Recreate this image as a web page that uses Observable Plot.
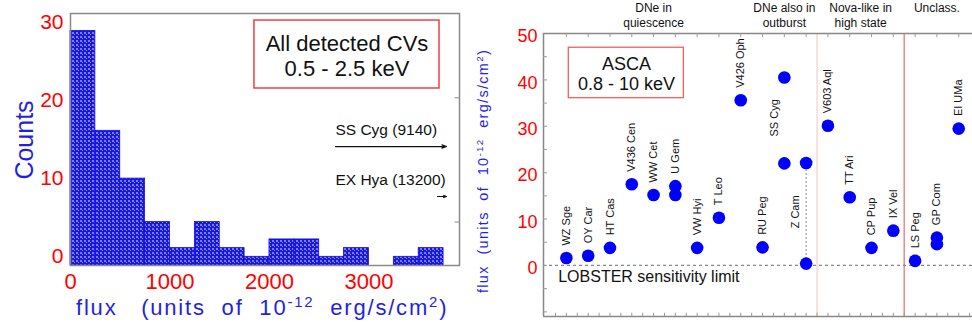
<!DOCTYPE html>
<html><head><meta charset="utf-8">
<script src="https://cdn.jsdelivr.net/npm/d3@7"></script>
<script src="https://cdn.jsdelivr.net/npm/@observablehq/plot@0.6"></script>
<style>
body{margin:0;background:#fff;}
#wrap{position:relative;width:972px;height:325px;overflow:hidden;background:#fff;}
#wrap svg{position:absolute;top:0;overflow:visible;}
</style></head><body>
<svg width="0" height="0" style="position:absolute">
<defs><pattern id="cvfill" width="4" height="4" patternUnits="userSpaceOnUse">
<rect width="4" height="4" fill="#1616e6"/><rect x="0" y="0" width="2" height="2" fill="#7c7cff"/><rect x="2" y="2" width="1" height="1" fill="#9a9aff"/></pattern></defs></svg>
<div id="wrap"></div>
<script>
const FONT = '"Liberation Sans", Arial, Helvetica, sans-serif';

// ---------- Left panel data ----------
const binLower = [0,250,500,750,1000,1250,1500,1750,2000,2250,2500,2750,3000,3250,3500];
const binCounts = [27,15.5,10,5,2,5,2,1,3,3,1,2,0,1,2];
const binWidth = 250;
const countTicks = [0,10,20,30];
const fluxTicks = [0,1000,2000,3000];
const offscaleLabels = ["SS Cyg (9140)","EX Hya (13200)"];

// ---------- Right panel data ----------
const stars = ["WZ Sge","OY Car","HT Cas","V436 Cen","WW Cet","U Gem","VW Hyi","T Leo","V426 Oph",
  "RU Peg","SS Cyg","Z Cam","V603 Aql","TT Ari","CP Pup","IX Vel","LS Peg","GP Com","EI UMa"];
const starGroup = [0,0,0,0,0,0,0,0,0,1,1,1,2,2,2,2,3,3,3];
const groupNames = ["DNe in\nquiescence","DNe also in\noutburst","Nova-like in\nhigh state","Unclass."];
const pointStar = ["WZ Sge","OY Car","HT Cas","V436 Cen","WW Cet","U Gem","U Gem","VW Hyi","T Leo","V426 Oph",
  "RU Peg","SS Cyg","SS Cyg","Z Cam","Z Cam","V603 Aql","TT Ari","CP Pup","IX Vel","LS Peg","GP Com","GP Com","EI UMa"];
const pointFlux = [1.6,2.1,3.8,17.5,15.2,17.1,15.2,3.8,10.3,35.6,
  3.9,40.5,22.0,22.1,0.4,30.1,14.7,3.8,7.5,1.0,6.0,4.6,29.5];
const fluxTicksR = [0,10,20,30,40,50];

const wrap = document.getElementById("wrap");

function richText(svg, {x, y, rotate = 0, size, color, ls = 0, anchor = "start", parts}) {
  const t = d3.select(svg).append("text")
    .attr("transform", `translate(${x},${y}) rotate(${rotate})`)
    .attr("font-size", size).attr("fill", color).attr("letter-spacing", ls)
    .attr("text-anchor", anchor).attr("font-family", FONT).style("white-space", "pre");
  let shifted = false;
  for (const [s, sup] of parts) {
    const ts = t.append("tspan").text(s);
    if (sup && !shifted) { ts.attr("dy", -size * 0.38).attr("font-size", size * 0.68); shifted = true; }
    else if (!sup && shifted) { ts.attr("dy", size * 0.38); shifted = false; }
  }
}

// ---------- Left panel ----------
const bins = binLower.map((x, i) => ({x1: x, x2: x + binWidth, n: binCounts[i]}));
const xMaxL = 3910, yMaxL = 29;
const left = Plot.plot({
  width: 480, height: 325, marginLeft: 70, marginRight: 21, marginTop: 13, marginBottom: 60,
  style: {fontFamily: FONT, background: "transparent", overflow: "visible"},
  x: {domain: [0, xMaxL]},
  y: {domain: [0, yMaxL], axis: null},
  marks: [
    Plot.rectY(bins, {x1: "x1", x2: "x2", y: "n", fill: "url(#cvfill)", stroke: "#1010d8", strokeWidth: 0.8}),
    Plot.frame({stroke: "#8a8a8a", strokeWidth: 1.5}),
    Plot.ruleY([5, 19.3], {x1: xMaxL, x2: xMaxL - 45, stroke: "#8a8a8a"}),
    Plot.axisX({ticks: fluxTicks, tickFormat: d3.format("d"), tickSize: 0, tickPadding: 8, color: "#ff0000", fontSize: 22, label: null}),
    Plot.rect([0], {x1: 1849, x2: 3709, y1: 20.37, y2: 28.19, fill: "white", stroke: "#f04040", strokeWidth: 1.5}),
    Plot.text(["All detected CVs\n0.5 - 2.5 keV"], {x: 2779, y: 24.22, fontSize: 22, lineHeight: 1.14, fill: "#111"}),
    Plot.text(offscaleLabels, {x: 2663, y: [15.54, 9.78], textAnchor: "start", fontSize: 15.5, fill: "#111"}),
    Plot.arrow([0, 1], {x1: [2663, 3689], x2: [3779, 3779], y1: [13.69, 7.94], y2: [13.69, 7.94],
      stroke: "#111", strokeWidth: 1.2, headLength: 6, headAngle: 40})
  ]
});
left.style.left = "0px";
wrap.appendChild(left);
richText(left, {x: 33, y: 140, rotate: -90, size: 25, color: "#1f1fe8", anchor: "middle", parts: [["Counts"]]});
richText(left, {x: 76, y: 315, size: 22, color: "#1f1fe8", ls: 1.8,
  parts: [["flux   (units  of  10"], ["-12", true], ["  erg/s/cm"], ["2", true], [")"]]});

const leftY = Plot.plot({
  width: 480, height: 325, marginLeft: 70, marginRight: 21, marginTop: 22, marginBottom: 69,
  style: {fontFamily: FONT, background: "transparent", overflow: "visible"},
  y: {domain: [0, 30]},
  marks: [Plot.axisY({ticks: countTicks, tickSize: 0, tickPadding: 7, color: "#ff0000", fontSize: 21, label: null})]
});
leftY.style.left = "0px";
wrap.appendChild(leftY);

// ---------- Right panel ----------
const xDomR = [-1.05, 19], yDomR = [-11, 50];
const pts = pointStar.map((s, i) => ({idx: stars.indexOf(s), v: pointFlux[i]}));
const labelOverride = {"SS Cyg": {x: 9.54, y: 27.8}, "Z Cam": {x: 10.5, y: 8.0}};
const normalLabels = [], specialLabels = [];
stars.forEach((s, i) => {
  const o = labelOverride[s];
  if (o) specialLabels.push({x: o.x, y: o.y, s});
  else normalLabels.push({x: i, y: d3.max(pts.filter(p => p.idx === i), p => p.v), s});
});
const groupInfo = groupNames.map((g, gi) => {
  const idxs = starGroup.map((v, i) => v === gi ? i : null).filter(v => v !== null);
  return {name: g, cx: d3.mean(idxs), hi: d3.max(idxs)};
});
const zi = stars.indexOf("Z Cam");
const zv = pts.filter(p => p.idx === zi).map(p => p.v);

const right = Plot.plot({
  width: 500, height: 325, marginLeft: 63, marginRight: 0, marginTop: 33, marginBottom: 9,
  style: {fontFamily: FONT, background: "transparent", overflow: "visible"},
  x: {domain: xDomR, axis: null},
  y: {domain: yDomR},
  marks: [
    Plot.ruleX([groupInfo[1].hi + 0.5], {stroke: "#f8c4c4", strokeWidth: 1}),
    Plot.ruleX([groupInfo[2].hi + 0.5], {stroke: "#f08888", strokeWidth: 1.5}),
    Plot.ruleY([0], {stroke: "#888", strokeDasharray: "3,3", strokeWidth: 1.2}),
    Plot.ruleX([zi], {y1: d3.min(zv), y2: d3.max(zv), stroke: "#999", strokeDasharray: "2,2", strokeWidth: 1.2}),
    Plot.ruleX([xDomR[0]], {stroke: "#888", strokeWidth: 1.5}),
    Plot.ruleY(yDomR, {stroke: "#888", strokeWidth: 1.5}),
    Plot.ruleY(d3.range(-10, 50, 5), {x1: xDomR[0], x2: xDomR[0] + 0.18, stroke: "#999"}),
    Plot.ruleX(d3.range(0, 19), {y1: yDomR[1], y2: yDomR[1] - 0.9, stroke: "#999"}),
    Plot.ruleX(d3.range(-0.5, 19, 0.5), {y1: yDomR[0], y2: yDomR[0] + 0.7, stroke: "#999"}),
    Plot.axisY({ticks: fluxTicksR, tickSize: 0, tickPadding: 6, color: "#ff0000", fontSize: 18, dy: 3, label: null}),
    Plot.dot(pts, {x: "idx", y: "v", r: 6.3, fill: "#0000ff"}),
    Plot.text(normalLabels, {x: "x", y: "y", text: "s", rotate: -90, textAnchor: "start", dy: -12.5, fontSize: 11, fill: "#111"}),
    Plot.text(specialLabels, {x: "x", y: "y", text: "s", rotate: -90, textAnchor: "start", fontSize: 11, fill: "#111"}),
    Plot.rect([0], {x1: 0.11, x2: 5.39, y1: 36.06, y2: 46.93, fill: "white", stroke: "#f06060", strokeWidth: 1.3}),
    Plot.text(["ASCA\n0.8 - 10 keV"], {x: 2.76, y: 41.32, fontSize: 18, lineHeight: 1.11, fill: "#111"}),
    Plot.text(["LOBSTER sensitivity limit"], {x: -0.376, y: -2.52, textAnchor: "start", fontSize: 16, fill: "#111"}),
    Plot.text(groupInfo, {x: "cx", y: 56.9, text: "name", lineAnchor: "top", fontSize: 12, lineHeight: 1.25, fill: "#111"})
  ]
});
right.style.left = "480px";
wrap.appendChild(right);
richText(right, {x: 8, y: 293, rotate: -90, size: 14.5, color: "#1f1fe8", ls: 1.3,
  parts: [["flux  (units  of  10"], ["-12", true], ["  erg/s/cm"], ["2", true], [")"]]});
</script>
</body></html>
